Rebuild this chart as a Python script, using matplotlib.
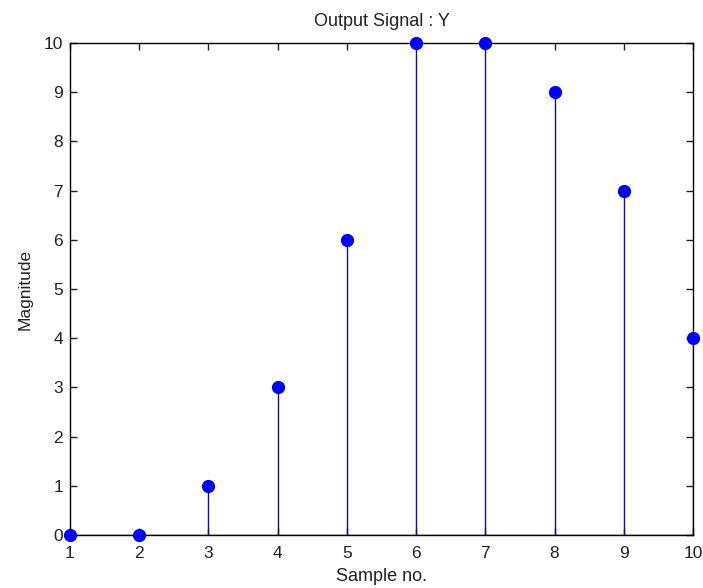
import numpy as np
import matplotlib
matplotlib.use('Agg')
import matplotlib.pyplot as plt

# sample index and output values
n = [1, 2, 3, 4, 5, 6, 7, 8, 9, 10]
y = [0, 0, 1, 3, 6, 10, 10, 9, 7, 4]

plt.rcParams['font.family'] = ['Liberation Sans', 'DejaVu Sans']

fig = plt.figure(figsize=(7.03, 5.88), dpi=100)
ax = fig.add_axes([70 / 703, 53 / 588, 623 / 703, 492 / 588])

markers, stems, base = ax.stem(n, y, basefmt='k-')
plt.setp(stems, color='#1010a0', linewidth=1.0)
plt.setp(markers, color='#0000ff', markersize=8.5, clip_on=False, zorder=5)
plt.setp(base, linewidth=1.0)

ax.set_xlim(1, 10)
ax.set_ylim(0, 10)
ax.set_xticks(np.arange(1, 11))
ax.set_yticks(np.arange(0, 11))
ax.tick_params(direction='in', top=True, right=True, length=5, width=1,
               labelsize=12.5, colors='#222222')
ax.tick_params(axis='x', pad=8)
ax.tick_params(axis='y', pad=5)
for s in ax.spines.values():
    s.set_linewidth(1.0)

ax.set_title('Output Signal : Y', fontsize=13, pad=12, color='#222222')
ax.set_xlabel('Sample no.', fontsize=13, labelpad=5, color='#222222')
ax.set_ylabel('Magnitude', fontsize=12.5, labelpad=8, color='#222222')

fig.savefig('out.png', dpi=100)
